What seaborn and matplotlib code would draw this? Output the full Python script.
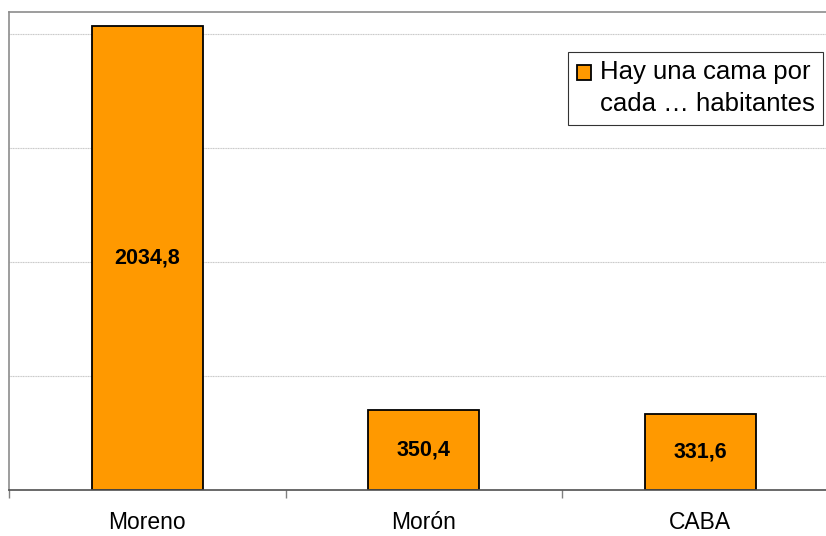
import pandas as pd
import matplotlib.pyplot as plt
import seaborn as sns

# datos
partidos = ['Moreno', 'Morón', 'CABA']
habitantes_por_cama = [2034.8, 350.4, 331.6]
serie = 'Hay una cama por\ncada … habitantes'
grid_vals = [500, 1000, 1500, 2000]


def main():
    sns.set_style('white')
    plt.rcParams['font.family'] = ['Liberation Sans', 'DejaVu Sans']
    plt.rcParams['text.color'] = 'black'
    plt.rcParams['xtick.color'] = 'black'

    df = pd.DataFrame({'partido': partidos, 'valor': habitantes_por_cama})

    fig = plt.figure(figsize=(8.26, 5.36), dpi=100)
    ax = fig.add_axes([9 / 826, 46 / 536, 829.5 / 826, 478 / 536])

    sns.barplot(data=df, x='partido', y='valor', color='#FF9900', saturation=1,
                width=0.4, edgecolor='black', linewidth=1.3, label=serie, ax=ax)

    ax.set_xlim(-0.5, 2.5)
    ax.set_ylim(0, 2096)

    # grilla horizontal
    ax.set_yticks(grid_vals)
    ax.set_yticklabels([])
    ax.tick_params(axis='y', length=0)
    ax.yaxis.grid(True, color='#c8c8c8', linewidth=0.8, linestyle=(0, (1, 0.5)))
    ax.set_axisbelow(True)

    # etiquetas centradas, marcas entre categorias
    ax.set_xticks([0, 1, 2])
    ax.set_xticklabels(partidos, fontsize=16.5, color='black')
    ax.set_xticks([-0.5, 0.5, 1.5, 2.5], minor=True)
    ax.tick_params(axis='x', which='major', length=0, pad=15)
    ax.tick_params(axis='x', which='minor', length=6, width=1, color='#808080',
                   direction='out', bottom=True)
    ax.set_xlabel('')
    ax.set_ylabel('')

    for side in ['left', 'top', 'right']:
        ax.spines[side].set_color('#8c8c8c')
        ax.spines[side].set_linewidth(1.2)
    ax.spines['bottom'].set_color('#505050')
    ax.spines['bottom'].set_linewidth(1.2)

    etiquetas = [f'{v:.1f}'.replace('.', ',') for v in habitantes_por_cama]
    ax.bar_label(ax.containers[0], labels=etiquetas, label_type='center',
                 fontsize=15.5, fontweight='bold', color='black')

    leg = ax.legend(loc='upper right', bbox_to_anchor=(823 / 826, 1 - 52 / 536),
                    bbox_transform=fig.transFigure, fontsize=18.5, fancybox=False,
                    frameon=True, edgecolor='black', handlelength=0.55,
                    handleheight=0.55, handletextpad=0.35, borderpad=0.33,
                    borderaxespad=0)
    leg.get_frame().set_linewidth(0.8)
    for t in leg.get_texts():
        t.set_linespacing(1.4)
        t.set_color('black')
    # cuadradito a la altura de la primera linea
    h = leg.legend_handles[0]
    h.set_edgecolor('black')
    h.set_y(h.get_y() + 11.5)

    fig.savefig('out.png', dpi=100)
    plt.close(fig)


if __name__ == "__main__":
    main()
